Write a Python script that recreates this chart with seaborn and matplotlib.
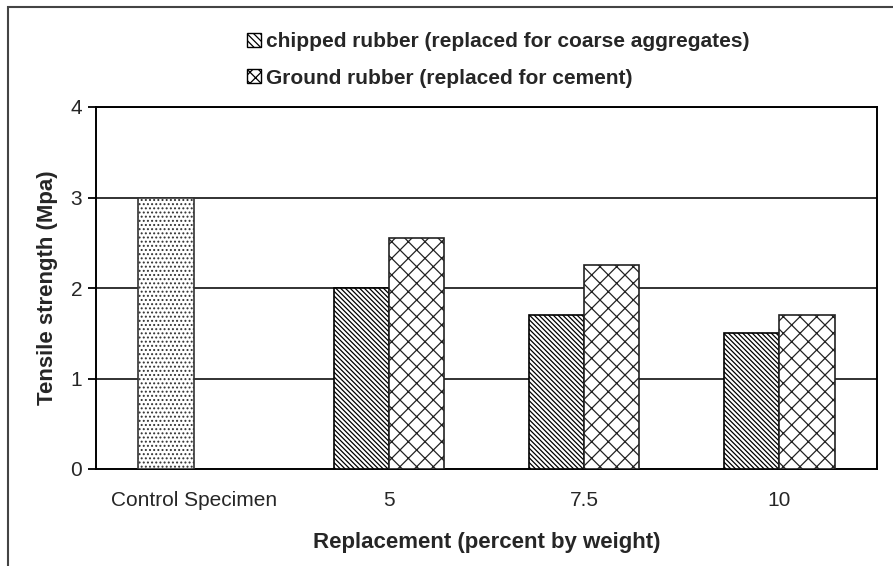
import numpy as np
import pandas as pd
import matplotlib
matplotlib.use("Agg")
import matplotlib.pyplot as plt
import matplotlib.patches as mpatches
import seaborn as sns

# data
categories = ["Control Specimen", "5", "7.5", "10"]
control_value = 3.0
chipped = [2.0, 1.7, 1.5]
ground = [2.55, 2.25, 1.7]
series = ["chipped rubber (replaced for coarse aggregates)",
          "Ground rubber (replaced for cement)"]
y_ticks = [0, 1, 2, 3, 4]

rows = [{"replacement": categories[0], "series": series[0], "strength": control_value}]
for cat, c, g in zip(categories[1:], chipped, ground):
    rows.append({"replacement": cat, "series": series[0], "strength": c})
    rows.append({"replacement": cat, "series": series[1], "strength": g})
df = pd.DataFrame(rows)

sns.set_theme(style="white")
plt.rcParams["font.family"] = ["Liberation Sans", "DejaVu Sans"]
plt.rcParams["hatch.linewidth"] = 0.9

fig = plt.figure(figsize=(8.93, 5.66), dpi=100)
ax = fig.add_axes([96 / 893, 1 - 469 / 566, (877 - 96) / 893, (469 - 107) / 566])

sns.barplot(data=df, x="replacement", y="strength", hue="series",
            order=categories, hue_order=series, width=0.565,
            palette=["white", "white"],
            edgecolor="black", linewidth=1.2, legend=False, ax=ax, zorder=3)

hatch_chipped = "\\" * 7
hatch_ground = "xx"
for i, bar in enumerate(ax.containers[0]):
    bar.set_hatch("...." if i == 0 else hatch_chipped)
    if i == 0:
        bar.set_edgecolor("#333333")
for bar in ax.containers[1]:
    bar.set_hatch(hatch_ground)
    bar.set_edgecolor("#222222")

ax.set_xlim(-0.5, 3.5)
ax.set_ylim(0, 4)
ax.set_yticks(y_ticks)
ax.set_yticklabels([str(t) for t in y_ticks], fontsize=15)
ax.set_xticks(range(len(categories)))
ax.set_xticklabels(categories, fontsize=15)
ax.set_xticks(np.arange(-0.5, 4.0, 1.0), minor=True)
ax.tick_params(axis="x", which="major", length=0, pad=16)
ax.tick_params(axis="x", which="minor", length=5, width=1.3, color="black", direction="out")
ax.tick_params(axis="y", length=6, width=1.3, color="black", direction="out", pad=4, left=True)

for y in y_ticks[1:]:
    ax.axhline(y, color="#222222", lw=1.3, zorder=1)

for side in ["left", "bottom", "right", "top"]:
    ax.spines[side].set_visible(True)
    ax.spines[side].set_color("black")
    ax.spines[side].set_linewidth(1.4)

ax.set_xlabel("Replacement (percent by weight)", fontsize=16, fontweight="bold", labelpad=16)
ax.set_ylabel("Tensile strength (Mpa)", fontsize=16, fontweight="bold", labelpad=9)

handles = [mpatches.Patch(facecolor="white", edgecolor="black", hatch="\\" * 5),
           mpatches.Patch(facecolor="white", edgecolor="black", hatch="xxx")]
leg = fig.legend(handles, series, loc="upper left",
                 bbox_to_anchor=(247 / 893, 1 - 32 / 566), frameon=False,
                 prop={"size": 15, "weight": "bold"}, handlelength=0.65,
                 handleheight=0.65, handletextpad=0.25, labelspacing=0.85,
                 borderpad=0, borderaxespad=0)

# outer frame of the original figure
fig.patches.append(mpatches.Rectangle((8 / 893, -0.1), 2, 1 - 7 / 566 + 0.1,
                                      transform=fig.transFigure, fill=False,
                                      edgecolor="#444444", lw=1.5))

fig.savefig("out.png", dpi=100)
